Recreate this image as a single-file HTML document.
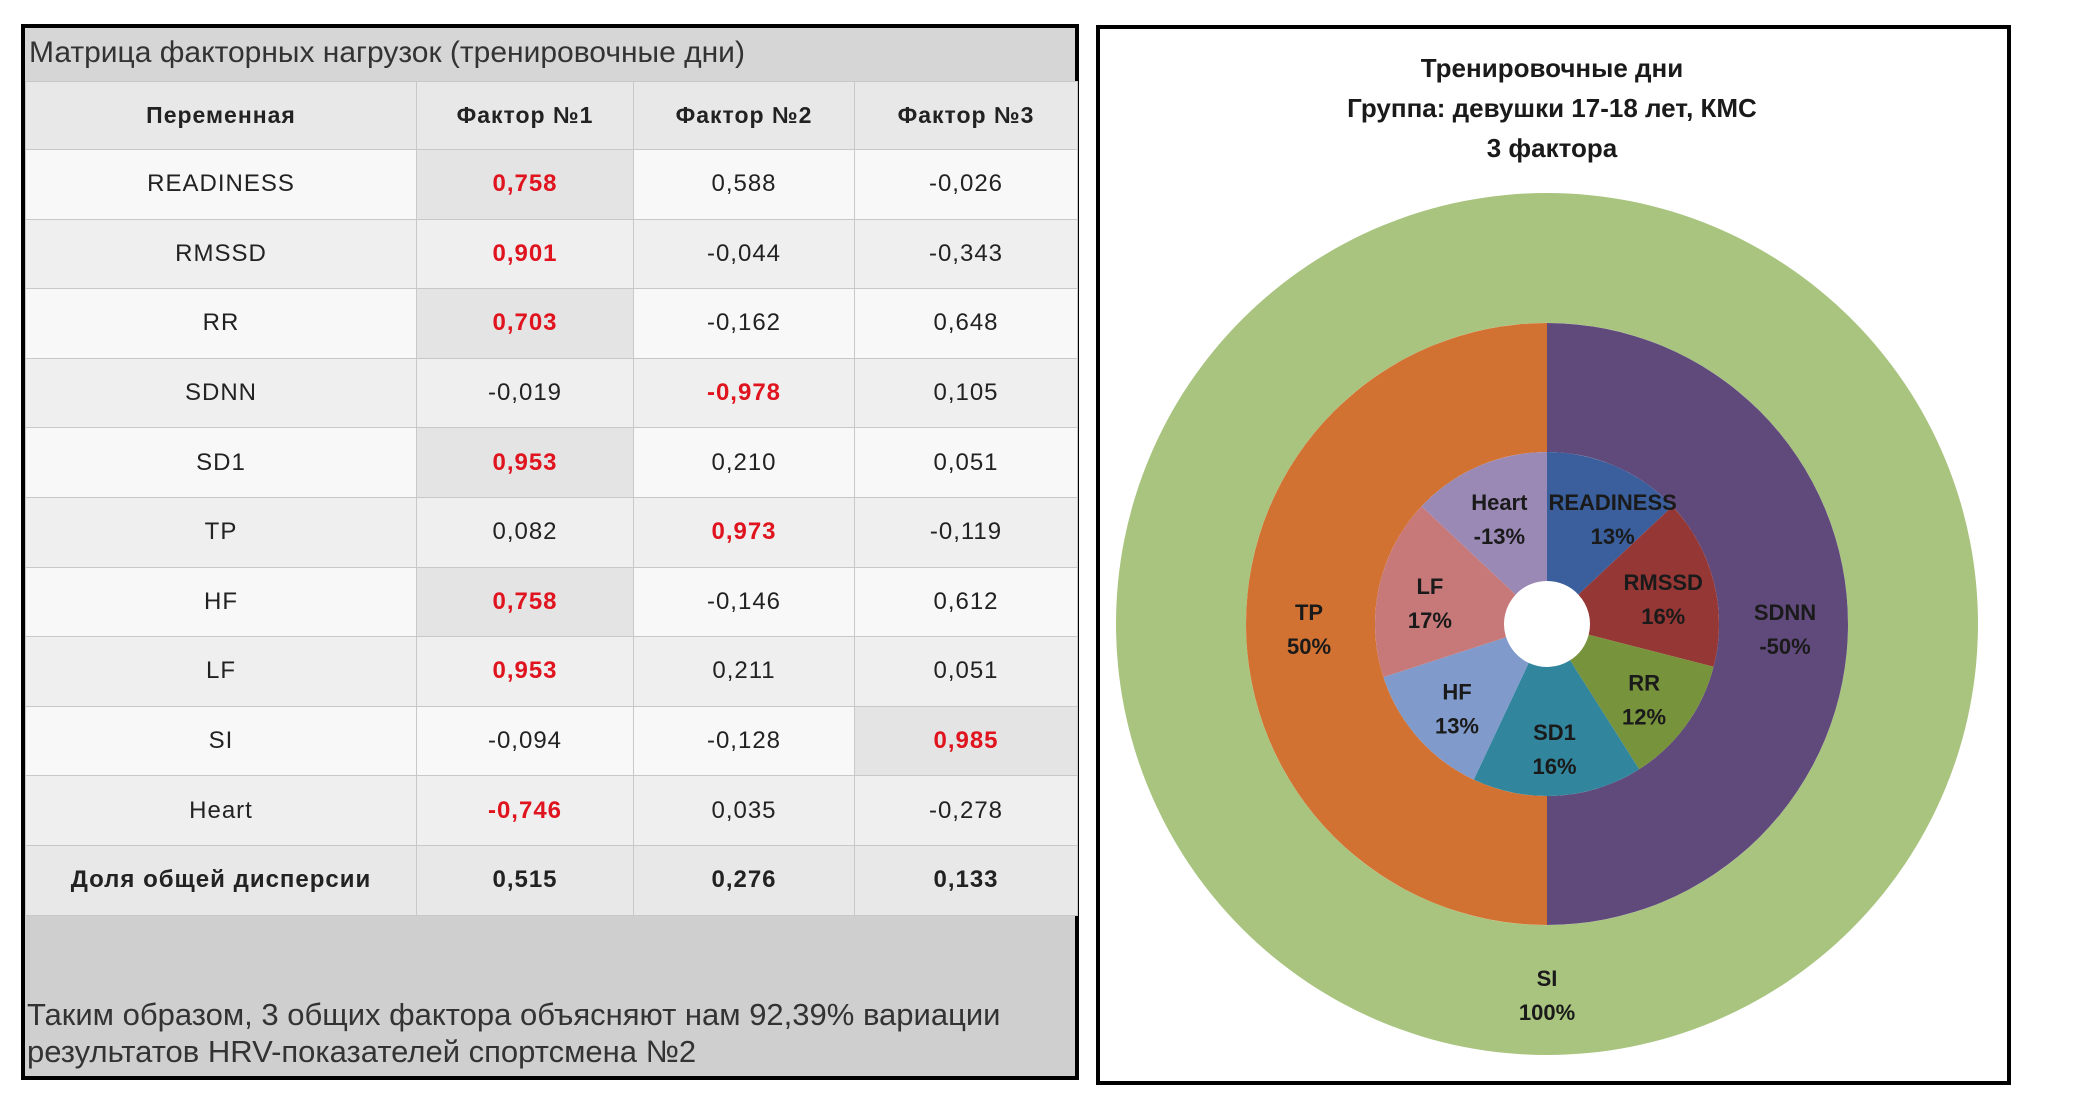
<!DOCTYPE html>
<html><head><meta charset="utf-8"><style>
html,body{margin:0;padding:0;background:#fff;width:2089px;height:1106px;overflow:hidden;font-family:"Liberation Sans","Noto Sans CJK SC",sans-serif}
#left{position:absolute;left:21px;top:24px;width:1050px;height:1048px;border:4px solid #000;background:#cfcfcf;box-sizing:content-box}
#ltitle{position:absolute;left:0;top:0;width:1050px;height:53px;background:#d6d6d6;font-size:30px;color:#333;line-height:50px;padding-left:4px;box-sizing:border-box}
table{position:absolute;left:0;top:53px;border-collapse:collapse;width:1052px;table-layout:fixed}
td{height:68.6px;border:1px solid #c8c8c8;text-align:center;font-size:24px;letter-spacing:1px;color:#222;background:#f8f8f8;padding:0}
tr.alt td{background:#efefef}
td.hl{background:#e4e4e4;color:#e0141e;font-weight:bold}
tr.hd td{background:#e8e8e8;font-weight:bold;font-size:23px;height:67px}
tr.sum td{background:#e8e8e8;font-weight:bold}
#foot{position:absolute;left:2px;top:968px;font-size:31px;color:#333;line-height:37px}
#right{position:absolute;left:1096px;top:25px;width:907px;height:1052px;border:4px solid #000;background:#fff}
</style></head><body>
<div id="left">
<div id="ltitle">Матрица факторных нагрузок (тренировочные дни)</div>
<table>
<colgroup><col style="width:391px"><col style="width:217px"><col style="width:221px"><col style="width:223px"></colgroup>
<tr class="hd"><td>Переменная</td><td>Фактор №1</td><td>Фактор №2</td><td>Фактор №3</td></tr>
<tr><td>READINESS</td><td class="hl">0,758</td><td>0,588</td><td>-0,026</td></tr>
<tr class="alt"><td>RMSSD</td><td class="hl">0,901</td><td>-0,044</td><td>-0,343</td></tr>
<tr><td>RR</td><td class="hl">0,703</td><td>-0,162</td><td>0,648</td></tr>
<tr class="alt"><td>SDNN</td><td>-0,019</td><td class="hl">-0,978</td><td>0,105</td></tr>
<tr><td>SD1</td><td class="hl">0,953</td><td>0,210</td><td>0,051</td></tr>
<tr class="alt"><td>TP</td><td>0,082</td><td class="hl">0,973</td><td>-0,119</td></tr>
<tr><td>HF</td><td class="hl">0,758</td><td>-0,146</td><td>0,612</td></tr>
<tr class="alt"><td>LF</td><td class="hl">0,953</td><td>0,211</td><td>0,051</td></tr>
<tr><td>SI</td><td>-0,094</td><td>-0,128</td><td class="hl">0,985</td></tr>
<tr class="alt"><td>Heart</td><td class="hl">-0,746</td><td>0,035</td><td>-0,278</td></tr>
<tr class="sum"><td>Доля общей дисперсии</td><td>0,515</td><td>0,276</td><td>0,133</td></tr>
</table>
<div id="foot">Таким образом, 3 общих фактора объясняют нам 92,39% вариации<br>результатов HRV-показателей спортсмена №2</div>
</div>
<div id="right">
<svg id="chart" width="907" height="1052"></svg>
</div>
<script>
const innerLabels=["READINESS","RMSSD","RR","SD1","HF","LF","Heart"];
const innerValues=[13,16,12,16,13,17,-13];
const innerColors=["#3a5f9c","#953735","#77933c","#31859c","#7f9acb","#c7797a","#9a89b5"];
const midLabels=["SDNN","TP"];
const midValues=[-50,50];
const midColors=["#604a7b","#d27232"];
const outerLabels=["SI"];
const outerValues=[100];
const outerColors=["#a9c47f"];
const NS="http://www.w3.org/2000/svg";
const svg=document.getElementById('chart');
const cx=1547-1100, cy=624-29;
const labelQueue=[];
function pt(r,a){return [cx+r*Math.sin(a),cy-r*Math.cos(a)];}
function arc(r0,r1,a0,a1){
  if(a1-a0>=Math.PI*2-1e-6){
    return `M${cx-r1},${cy}A${r1},${r1} 0 1 1 ${cx+r1},${cy}A${r1},${r1} 0 1 1 ${cx-r1},${cy}Z`+
      (r0>0?`M${cx-r0},${cy}A${r0},${r0} 0 1 0 ${cx+r0},${cy}A${r0},${r0} 0 1 0 ${cx-r0},${cy}Z`:'');
  }
  const lg=(a1-a0)>Math.PI?1:0;
  const [x1,y1]=pt(r1,a0),[x2,y2]=pt(r1,a1),[x3,y3]=pt(r0,a1),[x4,y4]=pt(r0,a0);
  return `M${x1},${y1}A${r1},${r1} 0 ${lg} 1 ${x2},${y2}L${x3},${y3}A${r0},${r0} 0 ${lg} 0 ${x4},${y4}Z`;
}
function addLabel(name,lab,val,tx,ty){
  const t=document.createElementNS(NS,'text');
  t.setAttribute('x',tx);t.setAttribute('y',ty-4);
  t.setAttribute('text-anchor','middle');
  t.setAttribute('font-family','"Liberation Sans", sans-serif');
  t.setAttribute('font-weight','bold');t.setAttribute('font-size','22');
  t.setAttribute('fill','#1a1a1a');
  
  
  const s1=document.createElementNS(NS,'tspan');s1.setAttribute('x',tx);s1.textContent=lab;
  const s2=document.createElementNS(NS,'tspan');s2.setAttribute('x',tx);s2.setAttribute('dy','34');s2.textContent=val+'%';
  t.appendChild(s1);t.appendChild(s2);
  svg.appendChild(t);
}
function ring(name,labels,values,colors,r0,r1,lr){
  const tot=values.reduce((s,v)=>s+Math.abs(v),0);
  let a=0;
  labels.forEach((lab,i)=>{
    const sweep=Math.abs(values[i])/tot*Math.PI*2;
    const p=document.createElementNS(NS,'path');
    p.setAttribute('d',arc(r0,r1,a,a+sweep));
    p.setAttribute('fill',colors[i]);
    p.setAttribute('fill-rule','evenodd');
    
    
    svg.appendChild(p);
    let [tx,ty]=pt(lr,a+sweep/2);
    if(lab==="READINESS") tx+=18;
    labelQueue.push([name,lab,values[i],tx,ty]);
    a+=sweep;
  });
}
(function(){
  const p=document.createElementNS(NS,'path');
  p.setAttribute('d',arc(301,431,0,Math.PI*2));
  p.setAttribute('fill',outerColors[0]);p.setAttribute('fill-rule','evenodd');
  
  
  svg.appendChild(p);
  labelQueue.push(['outer',outerLabels[0],outerValues[0],cx,cy+366]);
})();
ring('middle',midLabels,midValues,midColors,172,301,238);
ring('inner',innerLabels,innerValues,innerColors,43,172,120);
labelQueue.forEach(q=>addLabel(q[0],q[1],q[2],q[3],q[4]));
const titles=["Тренировочные дни","Группа: девушки 17-18 лет, КМС","3 фактора"];
titles.forEach((s,i)=>{
  const t=document.createElementNS(NS,'text');
  t.setAttribute('x',452);t.setAttribute('y',48+i*40);t.setAttribute('text-anchor','middle');
  t.setAttribute('font-family','"Liberation Sans", sans-serif');t.setAttribute('font-weight','bold');t.setAttribute('font-size','26');t.setAttribute('fill','#1a1a1a');
  
  
  t.textContent=s;svg.appendChild(t);
});
</script>
</body></html>
